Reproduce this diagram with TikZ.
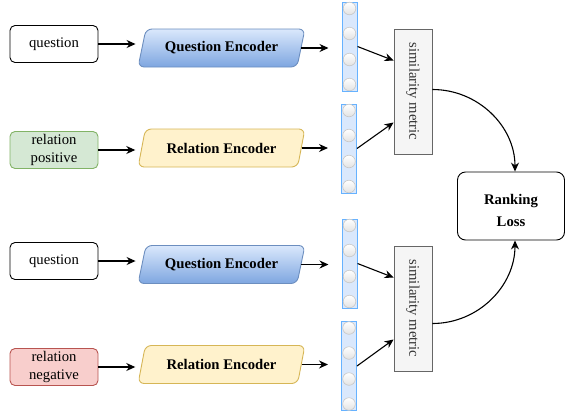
\documentclass[tikz,border=0pt]{standalone}
\usepackage{fontspec}
\usepackage{graphicx}
\setmainfont{Liberation Serif}
\usetikzlibrary{shapes.geometric,arrows.meta}

\begin{document}
\begin{tikzpicture}[x=1pt,y=-1pt,
  inbox/.style={draw,rounded corners=5pt,line width=0.9pt,minimum width=88pt,minimum height=37pt,inner sep=1pt,align=center,font=\fontsize{14.7}{17.5}\selectfont},
  encoder/.style={trapezium,trapezium left angle=72,trapezium right angle=108,trapezium stretches=true,minimum width=167pt,minimum height=38pt,rounded corners=6pt,line width=0.9pt,font=\bfseries\fontsize{14.7}{17.5}\selectfont},
  vecbox/.style={draw={rgb,255:red,102;green,178;blue,255},fill={rgb,255:red,218;green,232;blue,252},line width=1pt,minimum width=15pt,minimum height=89pt,inner sep=0pt},
  cell/.style={draw={rgb,255:red,200;green,200;blue,200},top color=white,bottom color={rgb,255:red,226;green,226;blue,226},line width=0.6pt},
  metric/.style={draw={rgb,255:red,102;green,102;blue,102},fill={rgb,255:red,245;green,245;blue,245},text={rgb,255:red,51;green,51;blue,51},line width=0.9pt,minimum width=38pt,minimum height=125pt,inner sep=0pt,font=\fontsize{14.7}{17.5}\selectfont},
  arr/.style={-{Stealth[length=9pt,width=8pt]},line width=1.1pt},
]
\path[use as bounding box] (0,0) rectangle (565,416);

% upper pair: question vs. positive relation
\node[inbox] (q1) at (54,44) {question};
\node[encoder,draw={rgb,255:red,108;green,142;blue,191},top color={rgb,255:red,218;green,232;blue,252},bottom color={rgb,255:red,126;green,166;blue,224}] (enc1) at (221.5,48) {Question Encoder};
\node[inbox,draw={rgb,255:red,130;green,179;blue,102},fill={rgb,255:red,213;green,232;blue,212}] (rp) at (54,150) {relation\\positive};
\node[encoder,draw={rgb,255:red,214;green,182;blue,86},fill={rgb,255:red,255;green,242;blue,204}] (enc2) at (221.5,148) {Relation Encoder};

% lower pair: question vs. negative relation
\node[inbox] (q2) at (54,261) {question};
\node[encoder,draw={rgb,255:red,108;green,142;blue,191},top color={rgb,255:red,218;green,232;blue,252},bottom color={rgb,255:red,126;green,166;blue,224}] (enc3) at (221.5,264.5) {Question Encoder};
\node[inbox,draw={rgb,255:red,184;green,84;blue,80},fill={rgb,255:red,248;green,206;blue,204}] (rn) at (54,367) {relation\\negative};
\node[encoder,draw={rgb,255:red,214;green,182;blue,86},fill={rgb,255:red,255;green,242;blue,204}] (enc4) at (221.5,364.5) {Relation Encoder};

% embedding vectors
\node[vecbox] (v1) at (349.5,46.5) {};
\node[vecbox] (v2) at (349,148.5) {};
\node[vecbox] (v3) at (349.5,263.5) {};
\node[vecbox] (v4) at (349,366) {};
\foreach \v in {v1,v2,v3,v4}
  \foreach \dy in {-38,-13,13,38}
    \path[cell] ([yshift=\dy pt]\v.center) circle[radius=6.3pt];

% similarity and loss
\node[metric] (m1) at (413,91.5) {\rotatebox{-90}{similarity metric}};
\node[metric] (m2) at (413,308.5) {\rotatebox{-90}{similarity metric}};
\node[draw,rounded corners=8pt,line width=0.9pt,minimum width=107pt,minimum height=68pt,align=center,font=\bfseries\fontsize{14.7}{22}\selectfont] (loss) at (511,206) {\rule{0pt}{20pt}Ranking\\Loss};

% connectors
\draw[arr,shorten >=6pt] (q1.east) -- (q1.east -| enc1.west);
\draw[arr,shorten >=6pt] (rp.east) -- (rp.east -| enc2.west);
\draw[arr,shorten >=6pt] (q2.east) -- (q2.east -| enc3.west);
\draw[arr,shorten >=6pt] (rn.east) -- (rn.east -| enc4.west);
\draw[arr,shorten >=13pt] (enc1.east) -- (enc1.east -| v1.west);
\draw[arr,shorten >=13pt] (enc2.east) -- (enc2.east -| v2.west);
\draw[arr,shorten >=13pt] (enc3.east) -- (enc3.east -| v3.west);
\draw[arr,shorten >=13pt] (enc4.east) -- (enc4.east -| v4.west);
\draw[arr] (v1.east) -- ([yshift=31pt]m1.west);
\draw[arr] (v2.east) -- ([yshift=-31pt]m1.west);
\draw[arr] (v3.east) -- ([yshift=31pt]m2.west);
\draw[arr] (v4.east) -- ([yshift=-31pt]m2.west);
\draw[arr] ([yshift=2pt]m1.east) to[out=0,in=90] ([xshift=4pt]loss.north);
\draw[arr] ([yshift=-15pt]m2.east) to[out=0,in=-90] ([xshift=4pt]loss.south);
\end{tikzpicture}
\end{document}
